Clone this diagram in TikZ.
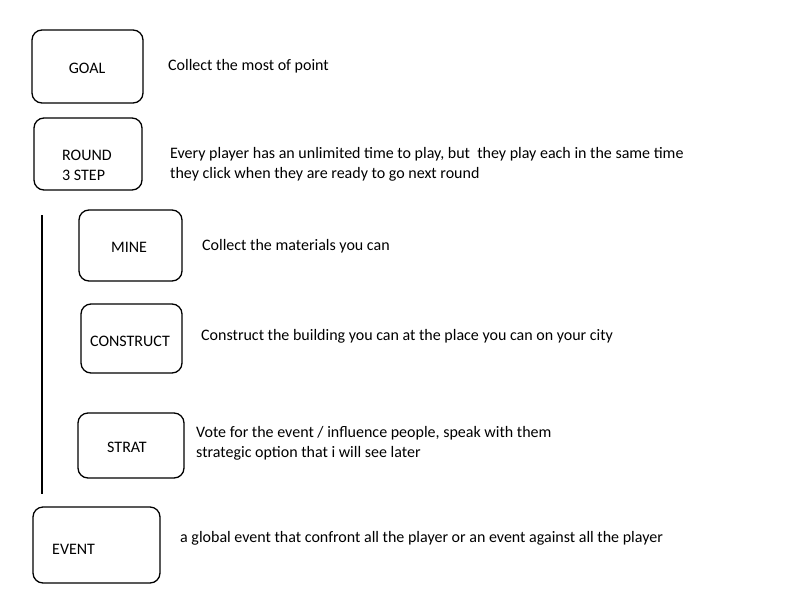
\documentclass[tikz,border=0pt]{standalone}
\usepackage{fontspec}
\setmainfont{Carlito}
\begin{document}
\begin{tikzpicture}[x=1pt,y=-1pt,
  box/.style={draw=black, line width=1.3pt, rounded corners=10pt, inner sep=0pt},
  lbl/.style={inner sep=0pt, font=\fontsize{16}{19.5}\selectfont, align=left},
  desc/.style={inner sep=0pt, anchor=west, font=\fontsize{16}{19.5}\selectfont, align=left}]
\useasboundingbox (0,0) rectangle (800,600);
% boxes
\node[box, minimum width=111pt, minimum height=73pt] (goal) at (87.5,66.5) {};
\node[box, minimum width=108pt, minimum height=72pt] (round) at (88,154) {};
\node[box, minimum width=103pt, minimum height=71pt] (mine) at (130.5,245.5) {};
\node[box, minimum width=101pt, minimum height=69pt] (construct) at (131.5,338.5) {};
\node[box, minimum width=106pt, minimum height=65pt] (strat) at (131,445.5) {};
\node[box, minimum width=127pt, minimum height=76pt] (event) at (96.5,545) {};
% box labels
\node[lbl] (goalt) at (87,68) {GOAL};
\node[lbl, anchor=west] (roundt) at (62,165.5) {ROUND\\3 STEP};
\node[lbl] (minet) at (129,247) {MINE};
\node[lbl] (constructt) at (130,341) {CONSTRUCT};
\node[lbl] (stratt) at (127,447) {STRAT};
\node[lbl, anchor=west] (eventt) at (52,549) {EVENT};
% vertical bar
\coordinate (bartop) at (42,215);
\coordinate (barbot) at (42,494);
\draw[line width=1.3pt] (bartop) -- (barbot);
% descriptions
\node[desc] (goald) at (168,66.5) {Collect the most of point};
\node[desc] (roundd) at (170,164.5) {Every player has an unlimited time to play, but\ \ they play each in the same time\\they click when they are ready to go next round};
\node[desc] (mined) at (202,246) {Collect the materials you can};
\node[desc] (constructd) at (201,336) {Construct the building you can at the place you can on your city};
\node[desc] (stratd) at (196,443.5) {Vote for the event / influence people, speak with them\\strategic option that i will see later};
\node[desc] (eventd) at (180,538.5) {a global event that confront all the player or an event against all the player};
\end{tikzpicture}
\end{document}
